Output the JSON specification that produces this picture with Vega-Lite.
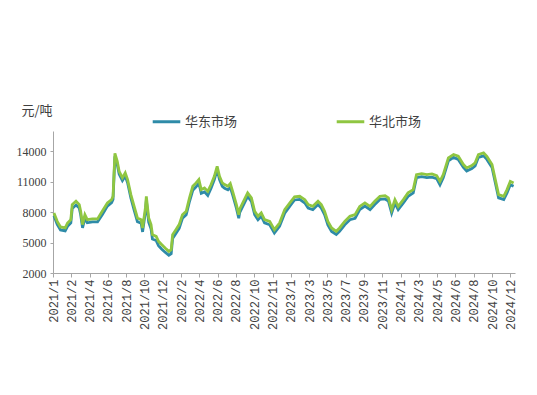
{
  "$schema": "https://vega.github.io/schema/vega-lite/v6.json",
  "width": 462,
  "height": 142,
  "autosize": {"type": "none"},
  "padding": {"left": 53, "top": 131, "right": 22, "bottom": 122},
  "background": "white",
  "config": {"view": {"stroke": null}},
  "data": {
    "values": [
      {"d": 2, "华东市场": 7650, "华北市场": 7920},
      {"d": 9, "华东市场": 6800, "华北市场": 7090},
      {"d": 16, "华东市场": 6250, "华北市场": 6540},
      {"d": 26, "华东市场": 6150, "华北市场": 6440},
      {"d": 31, "华东市场": 6600, "华北市场": 6935},
      {"d": 38, "华东市场": 6950, "华北市场": 7260},
      {"d": 41, "华东市场": 8350, "华北市场": 8740},
      {"d": 49, "华东市场": 8700, "华北市场": 9070},
      {"d": 56, "华东市场": 8400, "华北市场": 8740},
      {"d": 59, "华东市场": 7750, "华北市场": 8080},
      {"d": 63, "华东市场": 6450, "华北市场": 6770},
      {"d": 68, "华东市场": 7400, "华北市场": 7750},
      {"d": 73, "华东市场": 6950, "华北市场": 7260},
      {"d": 84, "华东市场": 7050, "华北市场": 7330},
      {"d": 95, "华东市场": 7050, "华北市场": 7330},
      {"d": 105, "华东市场": 7750, "华北市场": 8080},
      {"d": 116, "华东市场": 8600, "华北市场": 8910},
      {"d": 125, "华东市场": 8950, "华北市场": 9230},
      {"d": 128, "华东市场": 9250, "华北市场": 9560},
      {"d": 132, "华东市场": 13500, "华北市场": 13800},
      {"d": 137, "华东市场": 12700, "华北市场": 13020},
      {"d": 141, "华东市场": 11750, "华北市场": 12030},
      {"d": 148, "华东市场": 11100, "华北市场": 11380},
      {"d": 154, "华东市场": 11550, "华北市场": 11870},
      {"d": 159, "华东市场": 10900, "华北市场": 11210},
      {"d": 166, "华东市场": 9400, "华北市场": 9730},
      {"d": 173, "华东市场": 8200, "华北市场": 8570},
      {"d": 180, "华东市场": 7050, "华北市场": 7430},
      {"d": 188, "华东市场": 6900, "华北市场": 7260},
      {"d": 191, "华东市场": 6050, "华北市场": 6440},
      {"d": 197, "华东市场": 8000, "华北市场": 8420},
      {"d": 199, "华东市场": 9150, "华北市场": 9560},
      {"d": 204, "华东市场": 7000, "华北市场": 7430},
      {"d": 209, "华东市场": 6350, "华北市场": 6770},
      {"d": 212, "华东市场": 5350, "华北市场": 5780},
      {"d": 220, "华东市场": 5200, "华北市场": 5610},
      {"d": 225, "华东市场": 4700, "华北市场": 5120},
      {"d": 232, "华东市场": 4350, "华北市场": 4790},
      {"d": 239, "华东市场": 4050, "华北市场": 4470},
      {"d": 247, "华东市场": 3750, "华北市场": 4130},
      {"d": 252, "华东市场": 3900, "华北市场": 4300},
      {"d": 255, "华东市场": 5400, "华北市场": 5780},
      {"d": 262, "华东市场": 5900, "华北市场": 6270},
      {"d": 269, "华东市场": 6400, "华北市场": 6770},
      {"d": 276, "华东市场": 7400, "华北市场": 7750},
      {"d": 284, "华东市场": 7750, "华北市场": 8080},
      {"d": 291, "华东市场": 9050, "华北市场": 9400},
      {"d": 298, "华东市场": 10150, "华北市场": 10550},
      {"d": 305, "华东市场": 10500, "华北市场": 10880},
      {"d": 311, "华东市场": 10850, "华北市场": 11210},
      {"d": 316, "华东市场": 9850, "华北市场": 10220},
      {"d": 323, "华东市场": 10000, "华北市场": 10390},
      {"d": 330, "华东市场": 9650, "华北市场": 10050},
      {"d": 337, "华东市场": 10350, "华北市场": 10720},
      {"d": 344, "华东市场": 11200, "华北市场": 11530},
      {"d": 350, "华东市场": 12200, "华北市场": 12520},
      {"d": 355, "华东市场": 11200, "华北市场": 11530},
      {"d": 361, "华东市场": 10550, "华北市场": 10880},
      {"d": 366, "华东市场": 10350, "华北市场": 10720},
      {"d": 373, "华东市场": 10200, "华北市场": 10550},
      {"d": 378, "华东市场": 10450, "华北市场": 10810},
      {"d": 383, "华东市场": 9700, "华北市场": 10050},
      {"d": 391, "华东市场": 8400, "华北市场": 8740},
      {"d": 396, "华东市场": 7400, "华北市场": 7750},
      {"d": 398, "华东市场": 7950, "华北市场": 8300},
      {"d": 408, "华东市场": 8900, "华北市场": 9230},
      {"d": 415, "华东市场": 9550, "华北市场": 9900},
      {"d": 423, "华东市场": 9050, "华北市场": 9400},
      {"d": 430, "华东市场": 7750, "华北市场": 8080},
      {"d": 437, "华东市场": 7250, "华北市场": 7590},
      {"d": 444, "华东市场": 7600, "华北市场": 7920},
      {"d": 451, "华东市场": 6950, "华北市场": 7260},
      {"d": 462, "华东市场": 6750, "华北市场": 7090},
      {"d": 472, "华东市场": 5950, "华北市场": 6270},
      {"d": 483, "华东市场": 6600, "华北市场": 6930},
      {"d": 494, "华东市场": 7900, "华北市场": 8250},
      {"d": 505, "华东市场": 8600, "华北市场": 8910},
      {"d": 515, "华东市场": 9200, "华北市场": 9500},
      {"d": 526, "华东市场": 9250, "华北市场": 9560},
      {"d": 537, "华东市场": 8900, "华北市场": 9230},
      {"d": 544, "华东市场": 8400, "华北市场": 8740},
      {"d": 554, "华东市场": 8250, "华北市场": 8570},
      {"d": 565, "华东市场": 8750, "华北市场": 9070},
      {"d": 572, "华东市场": 8400, "华北市场": 8740},
      {"d": 579, "华东市场": 7750, "华北市场": 8080},
      {"d": 586, "华东市场": 6750, "华北市场": 7090},
      {"d": 594, "华东市场": 6100, "华北市场": 6440},
      {"d": 604, "华东市场": 5800, "华北市场": 6110},
      {"d": 611, "华东市场": 6100, "华北市场": 6440},
      {"d": 622, "华东市场": 6750, "华北市场": 7090},
      {"d": 633, "华东市场": 7250, "华北市场": 7590},
      {"d": 644, "华东市场": 7400, "华北市场": 7750},
      {"d": 654, "华东市场": 8250, "华北市场": 8570},
      {"d": 665, "华东市场": 8600, "华北市场": 8910},
      {"d": 676, "华东市场": 8250, "华北市场": 8570},
      {"d": 686, "华东市场": 8750, "华北市场": 9070},
      {"d": 697, "华东市场": 9250, "华北市场": 9560},
      {"d": 708, "华东市场": 9300, "华北市场": 9630},
      {"d": 715, "华东市场": 9100, "华北市场": 9400},
      {"d": 722, "华东市场": 7900, "华北市场": 8250},
      {"d": 729, "华东市场": 8900, "华北市场": 9230},
      {"d": 736, "华东市场": 8250, "华北市场": 8570},
      {"d": 747, "华东市场": 8900, "华北市场": 9230},
      {"d": 757, "华东市场": 9550, "华北市场": 9900},
      {"d": 768, "华东市场": 9900, "华北市场": 10220},
      {"d": 775, "华东市场": 11400, "华北市场": 11700},
      {"d": 786, "华东市场": 11500, "华北市场": 11800},
      {"d": 797, "华东市场": 11400, "华北市场": 11700},
      {"d": 808, "华东市场": 11450, "华北市场": 11770},
      {"d": 818, "华东市场": 11300, "华北市场": 11600},
      {"d": 825, "华东市场": 10700, "华北市场": 11040},
      {"d": 832, "华东市场": 11400, "华北市场": 11700},
      {"d": 843, "华东市场": 13050, "华北市场": 13350},
      {"d": 854, "华东市场": 13400, "华北市场": 13680},
      {"d": 864, "华东市场": 13200, "华北市场": 13510},
      {"d": 875, "华东市场": 12400, "华北市场": 12690},
      {"d": 882, "华东市场": 12050, "华北市场": 12360},
      {"d": 893, "华东市场": 12300, "华北市场": 12590},
      {"d": 900, "华东市场": 12550, "华北市场": 12860},
      {"d": 907, "华东市场": 13400, "华北市场": 13680},
      {"d": 918, "华东市场": 13550, "华北市场": 13850},
      {"d": 925, "华东市场": 13200, "华北市场": 13510},
      {"d": 936, "华东市场": 12400, "华北市场": 12690},
      {"d": 943, "华东市场": 10900, "华北市场": 11210},
      {"d": 950, "华东市场": 9400, "华北市场": 9730},
      {"d": 961, "华东市场": 9250, "华北市场": 9560},
      {"d": 968, "华东市场": 9900, "华北市场": 10220},
      {"d": 975, "华东市场": 10700, "华北市场": 11040},
      {"d": 982, "华东市场": 10550, "华北市场": 10880}
    ]
  },
  "transform": [
    {"fold": ["华东市场", "华北市场"], "as": ["market", "price"]}
  ],
  "mark": {"type": "line", "strokeWidth": 2.8, "interpolate": "linear"},
  "encoding": {
    "x": {
      "field": "d",
      "type": "quantitative",
      "scale": {"domain": [0, 985], "nice": false, "zero": false},
      "axis": {
        "title": null,
        "grid": false,
        "values": [0, 39, 78, 117, 156, 195, 234, 273, 312, 351, 390, 429, 468, 507, 546, 585, 624, 663, 702, 741, 780, 819, 858, 897, 936, 975],
        "labelExpr": "['2021/1','2021/2','2021/4','2021/6','2021/8','2021/10','2021/12','2022/2','2022/4','2022/6','2022/8','2022/10','2022/11','2023/1','2023/3','2023/5','2023/7','2023/9','2023/11','2024/1','2024/3','2024/5','2024/6','2024/8','2024/10','2024/12'][round(datum.value/39)]",
        "labelAngle": -90,
        "labelFont": "Liberation Mono",
        "labelFontSize": 12,
        "labelColor": "#404040",
        "labelPadding": 2,
        "labelFlush": false,
        "labelOverlap": false,
        "domainColor": "#a6a6a6",
        "tickColor": "#a6a6a6",
        "tickSize": 4
      }
    },
    "y": {
      "field": "price",
      "type": "quantitative",
      "scale": {"domain": [2000, 16000], "nice": false, "zero": false},
      "axis": {
        "title": "元/吨",
        "titleAngle": 0,
        "titleAlign": "left",
        "titleBaseline": "middle",
        "titleX": -32,
        "titleY": -21,
        "titleFont": "Noto Sans CJK SC",
        "titleFontSize": 13,
        "titleFontWeight": "normal",
        "titleColor": "#404040",
        "grid": false,
        "values": [2000, 5000, 8000, 11000, 14000],
        "format": "d",
        "labelFont": "Liberation Serif",
        "labelFontSize": 12,
        "labelColor": "#404040",
        "labelPadding": 4,
        "domainColor": "#a6a6a6",
        "tickColor": "#a6a6a6",
        "tickSize": 3
      }
    },
    "color": {
      "field": "market",
      "type": "nominal",
      "scale": {"domain": ["华东市场", "华北市场"], "range": ["#2e8ba8", "#8fc641"]},
      "legend": {
        "title": null,
        "orient": "none",
        "direction": "horizontal",
        "legendX": 98,
        "legendY": -25,
        "symbolType": "stroke",
        "symbolSize": 760,
        "symbolStrokeWidth": 3,
        "labelFont": "Noto Sans CJK SC",
        "labelFontSize": 13,
        "labelColor": "#404040",
        "labelOffset": 3,
        "columnPadding": 92,
        "padding": 0
      }
    }
  }
}
